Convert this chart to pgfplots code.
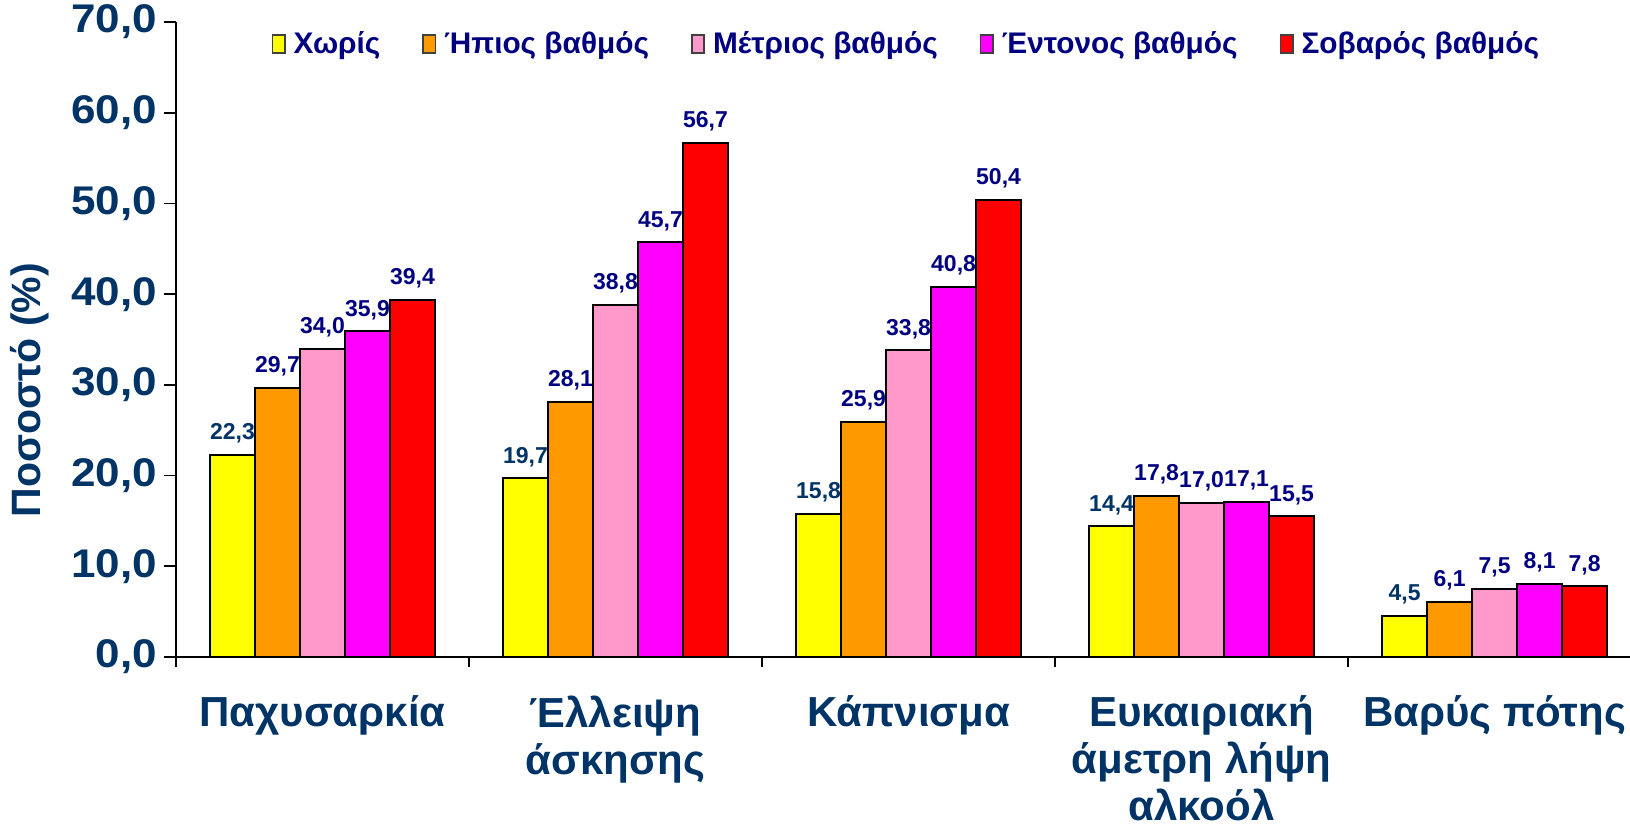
\documentclass[border=0pt]{standalone}
\usepackage{fontspec}
\setmainfont{Liberation Sans}
\newfontfamily\widefont[FakeStretch=1.1]{Liberation Sans}
\usepackage{pgfplots}
\pgfplotsset{compat=1.18}

\definecolor{axblue}{HTML}{003366}
\definecolor{navyc}{HTML}{000080}
\definecolor{cNone}{HTML}{FFFF00}
\definecolor{cMild}{HTML}{FF9900}
\definecolor{cMod}{HTML}{FF99CC}
\definecolor{cInt}{HTML}{FF00FF}
\definecolor{cSev}{HTML}{FF0000}

\pgfplotsset{
  barbox/.style={
    fill=#1, draw=black, line width=1pt,
  },
}

\begin{document}
\begin{tikzpicture}
\begin{axis}[
    scale only axis,
    width=727pt, height=317.5pt,
    ybar=0pt, bar width=22.5pt,
    xmin=-0.5, xmax=4.462,
    ymin=0, ymax=70,
    axis x line*=bottom, axis y line*=left,
    axis line style={line width=0.9pt, black},
    tick align=outside,
    major tick length=6pt, minor tick length=5pt,
    tick style={line width=0.9pt, black},
    ytick={0,10,...,70},
    xtick={0,1,2,3,4},
    minor xtick={-0.5,0.5,1.5,2.5,3.5},
    major x tick style={draw=none},
    xticklabels={Παχυσαρκία, {Έλλειψη\\άσκησης}, Κάπνισμα, {Ευκαιριακή\\άμετρη λήψη\\αλκοόλ}, Βαρύς πότης},
    xticklabel style={align=center, font=\fontsize{21}{23.4}\selectfont\bfseries, text=axblue, yshift=-10pt},
    yticklabel style={font=\widefont\fontsize{20}{23}\selectfont\bfseries, text=axblue,
        /pgf/number format/.cd, fixed, fixed zerofill, precision=1, use comma, assume math mode=true},
    ylabel={Ποσοστό (\%)},
    every axis y label/.style={at={(axis description cs:0,0.42)}, xshift=-73pt, rotate=90, anchor=center,
        font=\fontsize{20.5}{24}\selectfont\bfseries, text=axblue},
    nodes near coords={\pgfmathprintnumber[fixed, fixed zerofill, precision=1, use comma, assume math mode=true]{\pgfplotspointmeta}},
    nodes near coords style={font=\fontsize{11.5}{13}\selectfont\bfseries, text=navyc, yshift=2pt},
    legend columns=5,
    legend style={at={(0.503,0.965)}, anchor=center, draw=none, fill=none,
        font=\fontsize{14.9}{17}\selectfont\bfseries, text=navyc,
        /tikz/every even column/.append style={column sep=19pt},
        /tikz/every odd column/.append style={column sep=2pt}},
    legend image code/.code={\draw[#1, draw=black!75, line width=0.8pt] (0pt,-4.5pt) rectangle (6.2pt,4.5pt);},
]
\addplot[barbox=cNone, nodes near coords style={text=axblue}] coordinates {(0,22.3) (1,19.7) (2,15.8) (3,14.4) (4,4.5)};
\addlegendentry{Χωρίς}
\addplot[barbox=cMild] coordinates {(0,29.7) (1,28.1) (2,25.9) (3,17.8) (4,6.1)};
\addlegendentry{Ήπιος βαθμός}
\addplot[barbox=cMod] coordinates {(0,34.0) (1,38.8) (2,33.8) (3,17.0) (4,7.5)};
\addlegendentry{Μέτριος βαθμός}
\addplot[barbox=cInt] coordinates {(0,35.9) (1,45.7) (2,40.8) (3,17.1) (4,8.1)};
\addlegendentry{Έντονος βαθμός}
\addplot[barbox=cSev] coordinates {(0,39.4) (1,56.7) (2,50.4) (3,15.5) (4,7.8)};
\addlegendentry{Σοβαρός βαθμός}
\coordinate (o) at (rel axis cs:0,0);
\end{axis}
\pgfresetboundingbox
\path (o) ++(-88pt,-84pt) rectangle ++(815pt,412.5pt);
\end{tikzpicture}
\end{document}
